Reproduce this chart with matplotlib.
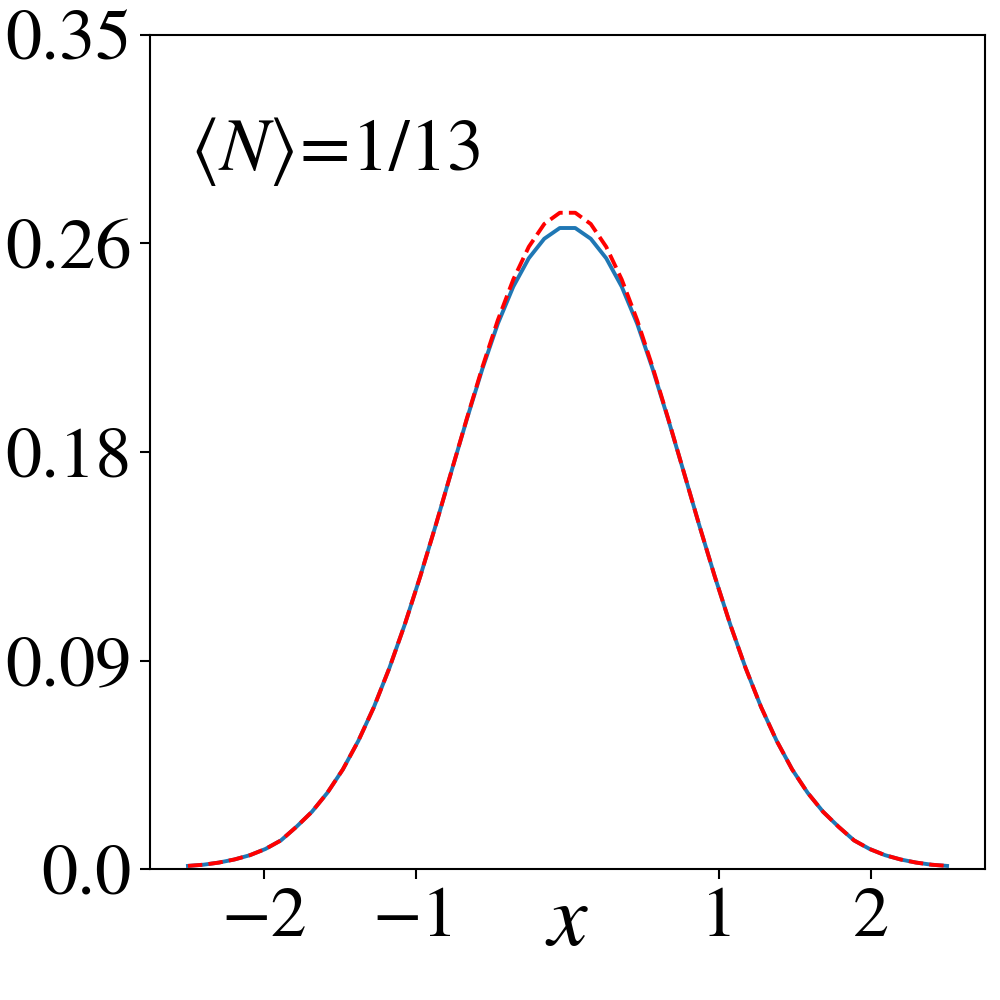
import matplotlib
matplotlib.use("Agg")
import matplotlib.pyplot as plt

plt.rcParams['font.family'] = ['STIXGeneral', 'DejaVu Serif']
plt.rcParams['mathtext.fontset'] = 'stix'

# positive half of the sample grid (curves are symmetric about x = 0)
x_half = [0.0510, 0.1531, 0.2551, 0.3571, 0.4592, 0.5612, 0.6633, 0.7653, 0.8673,
          0.9694, 1.0714, 1.1735, 1.2755, 1.3776, 1.4796, 1.5816, 1.6837, 1.7857,
          1.8878, 1.9898, 2.0918, 2.1939, 2.2959, 2.3980, 2.5000]
red_half = [0.2754, 0.2707, 0.2611, 0.2474, 0.2303, 0.2105, 0.1890, 0.1667, 0.1444,
            0.1229, 0.1027, 0.0843, 0.0679, 0.0538, 0.0418, 0.0320, 0.0240, 0.0177,
            0.0120, 0.0084, 0.0058, 0.0040, 0.0027, 0.0018, 0.0013]
blue_half = [0.2690, 0.2645, 0.2563, 0.2444, 0.2288, 0.2098, 0.1887, 0.1667, 0.1444,
             0.1229, 0.1027, 0.0843, 0.0679, 0.0538, 0.0418, 0.0320, 0.0240, 0.0177,
             0.0120, 0.0084, 0.0058, 0.0040, 0.0027, 0.0018, 0.0013]

x_vals = [-v for v in x_half[::-1]] + x_half
red_vals = red_half[::-1] + red_half
blue_vals = blue_half[::-1] + blue_half

xticks = [-2, -1, 1, 2]
xticklabels = ['\u22122', '\u22121', '1', '2']
yticks = [0.0, 0.0875, 0.175, 0.2625, 0.35]
yticklabels = ['0.0', '0.09', '0.18', '0.26', '0.35']

fig = plt.figure(figsize=(10, 10), dpi=100)
ax = fig.add_axes([0.150, 0.131, 0.835, 0.834])

ax.plot(x_vals, blue_vals, color='#1f77b4', lw=2.8)
ax.plot(x_vals, red_vals, color='red', lw=2.8, ls='--')

ax.set_xlim(-2.75, 2.75)
ax.set_ylim(0, 0.35)
ax.set_xticks(xticks)
ax.set_xticklabels(xticklabels)
ax.set_yticks(yticks)
ax.set_yticklabels(yticklabels)
ax.tick_params(labelsize=52, length=7, width=1.5, pad=6)
for s in ax.spines.values():
    s.set_linewidth(1.5)

ax.text(0, -0.091, '$x$', transform=ax.get_xaxis_transform(), ha='center', va='baseline',
        fontsize=64)
ax.text(0.048, 0.838, r'$\langle N\rangle\!=\!$1/13', transform=ax.transAxes,
        ha='left', va='baseline', fontsize=53)

fig.savefig('out.png', dpi=100)
